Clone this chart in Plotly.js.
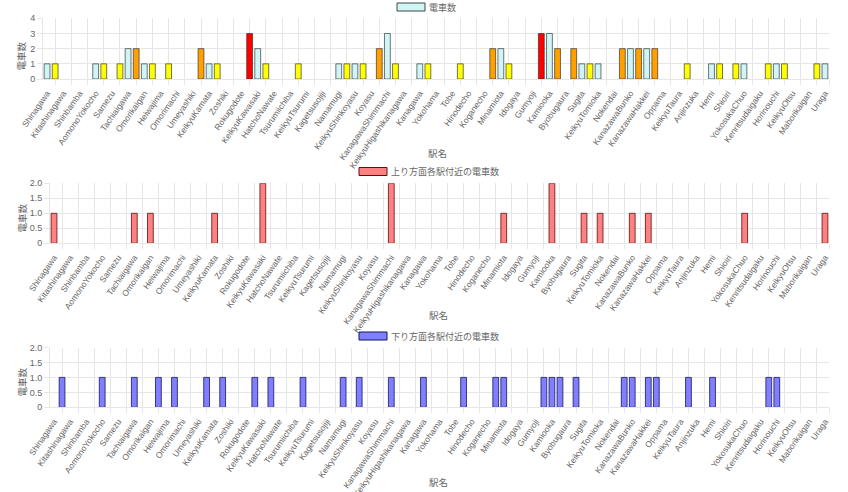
<!DOCTYPE html>
<html>
<head>
<meta charset="utf-8">
<script src="https://cdn.plot.ly/plotly-3.0.1.min.js"></script>
<style>
  html, body { margin: 0; padding: 0; background: #fff; }
  #chart { width: 848px; height: 492px; }
</style>
</head>
<body>
<div id="chart"></div>
<script>
const W = 848;
const H = 492;
// pixel -> paper helpers
const px = (x) => x / W;
const py = (y) => 1 - y / H;

const stations = [
  "Shinagawa", "Kitashinagawa", "Shinbamba", "AomonoYokocho", "Samezu",
  "Tachiaigawa", "Omorikaigan", "Heiwajima", "Omorimachi", "Umeyashiki",
  "KeikyuKamata", "Zoshiki", "Rokugodote", "KeikyuKawasaki", "HatchoNawate",
  "Tsurumiichiba", "KeikyuTsurumi", "Kagetsusojiji", "Namamugi", "KeikyuShinkoyasu",
  "Koyasu", "KanagawaShimmachi", "KeikyuHigashikanagawa", "Kanagawa", "Yokohama",
  "Tobe", "Hinodecho", "Koganecho", "Minamiota", "Idogaya",
  "Gumyoji", "Kamiooka", "Byobugaura", "Sugita", "KeikyuTomioka",
  "Nokendai", "KanazawaBunko", "KanazawaHakkei", "Oppama", "KeikyuTaura",
  "Anjinzuka", "Hemi", "Shioiri", "YokosukaChuo", "Kenritsudaigaku",
  "Horinouchi", "KeikyuOtsu", "Maborikaigan", "Uraga",
];

// one slot per station (even) and one per section between stations (odd)
const totalCounts = [
  1, 1, 0, 0, 0, 0, 1, 1, 0, 1,
  2, 2, 1, 1, 0, 1, 0, 0, 0, 2,
  1, 1, 0, 0, 0, 3, 2, 1, 0, 0,
  0, 1, 0, 0, 0, 0, 1, 1, 1, 1,
  0, 2, 3, 1, 0, 0, 1, 1, 0, 0,
  0, 1, 0, 0, 0, 2, 2, 1, 0, 0,
  0, 3, 3, 2, 0, 2, 1, 1, 1, 0,
  0, 2, 2, 2, 2, 2, 0, 0, 0, 1,
  0, 0, 1, 1, 0, 1, 1, 0, 0, 1,
  1, 1, 0, 0, 0, 1, 1,
];
const upCounts = [
  1, 0, 0, 0, 0, 0, 0, 0, 0, 0,
  1, 0, 1, 0, 0, 0, 0, 0, 0, 0,
  1, 0, 0, 0, 0, 0, 2, 0, 0, 0,
  0, 0, 0, 0, 0, 0, 0, 0, 0, 0,
  0, 0, 2, 0, 0, 0, 0, 0, 0, 0,
  0, 0, 0, 0, 0, 0, 1, 0, 0, 0,
  0, 0, 2, 0, 0, 0, 1, 0, 1, 0,
  0, 0, 1, 0, 1, 0, 0, 0, 0, 0,
  0, 0, 0, 0, 0, 0, 1, 0, 0, 0,
  0, 0, 0, 0, 0, 0, 1,
];
const downCounts = [
  0, 1, 0, 0, 0, 0, 1, 0, 0, 0,
  1, 0, 0, 1, 0, 1, 0, 0, 0, 1,
  0, 1, 0, 0, 0, 1, 0, 1, 0, 0,
  0, 1, 0, 0, 0, 0, 1, 0, 1, 0,
  0, 0, 1, 0, 0, 0, 1, 0, 0, 0,
  0, 1, 0, 0, 0, 1, 1, 0, 0, 0,
  0, 1, 1, 1, 0, 1, 0, 0, 0, 0,
  0, 1, 1, 0, 1, 1, 0, 0, 0, 1,
  0, 0, 1, 0, 0, 0, 0, 0, 0, 1,
  1, 0, 0, 0, 0, 0, 0,
];

const totalName = "電車数";
const upName = "上り方面各駅付近の電車数";
const downName = "下り方面各駅付近の電車数";
const axisNameX = "駅名";
const axisNameY = "電車数";

const stationColor = "#cff5f7";
const countColors = { 1: "#ffff00", 2: "#ffa000", 3: "#ff0000" };
const upColor = "#ff8080";
const downColor = "#8080ff";

const FONT = "Liberation Sans, Arial, Noto Sans CJK JP, sans-serif";
const TXT = "#666";
const GRID = "#e6e6e6";

const slots = totalCounts.map((_, i) => i);
const stationTicks = stations.map((_, i) => i * 2);
const gridTicks = stations.slice(1).map((_, i) => i * 2 + 1).concat([slots.length - 0.5]);

const topColors = totalCounts.map((v, i) =>
  i % 2 === 0 ? stationColor : countColors[v] || stationColor
);
const noZero = (arr) => arr.map((v) => (v === 0 ? null : v));

const traces = [
  {
    type: "bar", name: totalName, x: slots, y: noZero(totalCounts),
    xaxis: "x", yaxis: "y",
    marker: { color: topColors, line: { color: "rgba(40,40,40,0.8)", width: 0.8 } },
  },
  {
    type: "bar", name: upName, x: slots, y: noZero(upCounts),
    xaxis: "x2", yaxis: "y2",
    marker: { color: upColor, line: { color: "#5a1010", width: 0.8 } },
  },
  {
    type: "bar", name: downName, x: slots, y: noZero(downCounts),
    xaxis: "x3", yaxis: "y3",
    marker: { color: downColor, line: { color: "#151560", width: 0.8 } },
  },
];

const xAxis = (left, anchor) => ({
  domain: [px(left), px(829)],
  anchor: anchor,
  range: [-0.5, slots.length - 0.5],
  tickmode: "array",
  tickvals: stationTicks,
  ticktext: stations,
  tickangle: -55,
  tickfont: { family: FONT, size: 8.5, color: TXT },
  ticks: "outside",
  ticklen: 5,
  tickcolor: "rgba(0,0,0,0)",
  showgrid: false,
  minor: {
    tickmode: "array",
    tickvals: gridTicks,
    showgrid: true,
    gridcolor: GRID,
    gridwidth: 1,
    ticks: "outside",
    ticklen: 5,
    tickcolor: GRID,
  },
  showline: true,
  linecolor: GRID,
  zeroline: false,
  fixedrange: true,
});

const yAxis = (top, bottom, anchor, max, vals, texts) => ({
  domain: [py(bottom), py(top)],
  anchor: anchor,
  range: [0, max],
  tickmode: "array",
  tickvals: vals,
  ticktext: texts,
  tickfont: { family: FONT, size: 9, color: TXT },
  ticks: "outside",
  ticklen: 5,
  tickcolor: GRID,
  gridcolor: GRID,
  showline: true,
  linecolor: GRID,
  zeroline: false,
  fixedrange: true,
});

// chart.js style legend boxes, drawn as shape + text
const shapes = [];
const annotations = [];
const legendItem = (x0, yMid, label, fill, border) => {
  shapes.push({
    type: "rect", xref: "paper", yref: "paper",
    x0: px(x0), x1: px(x0 + 28), y0: py(yMid + 4), y1: py(yMid - 4),
    fillcolor: fill, line: { color: border, width: 1 },
  });
  annotations.push({
    xref: "paper", yref: "paper", x: px(x0 + 30), y: py(yMid),
    xanchor: "left", yanchor: "middle", showarrow: false,
    text: label, font: { family: FONT, size: 9, color: TXT },
  });
};
const axisLabel = (x, y, text, angle) => {
  annotations.push({
    xref: "paper", yref: "paper", x: px(x), y: py(y),
    xanchor: "center", yanchor: "middle", showarrow: false,
    text: text, textangle: angle,
    font: { family: FONT, size: 9.5, color: TXT },
  });
};

legendItem(397, 7, totalName, stationColor, "#444");
legendItem(359, 171.5, upName, upColor, "#5a1010");
legendItem(359, 336, downName, downColor, "#151560");

axisLabel(21.5, 56, axisNameY, -90);
axisLabel(21.5, 218, axisNameY, -90);
axisLabel(21.5, 382, axisNameY, -90);
axisLabel(437, 153.5, axisNameX, 0);
axisLabel(438, 315.5, axisNameX, 0);
axisLabel(438, 482, axisNameX, 0);

const layout = {
  width: W,
  height: H,
  margin: { l: 0, r: 0, t: 0, b: 0 },
  paper_bgcolor: "#fff",
  plot_bgcolor: "#fff",
  showlegend: false,
  bargap: 0.28,
  font: { family: FONT, color: TXT },
  xaxis: xAxis(43, "y"),
  xaxis2: xAxis(50, "y2"),
  xaxis3: xAxis(50, "y3"),
  yaxis: yAxis(18.3, 79, "x", 4, [0, 1, 2, 3, 4], ["0", "1", "2", "3", "4"]),
  yaxis2: yAxis(183.3, 243.3, "x2", 2, [0, 0.5, 1, 1.5, 2], ["0", "0.5", "1.0", "1.5", "2.0"]),
  yaxis3: yAxis(347.5, 407.3, "x3", 2, [0, 0.5, 1, 1.5, 2], ["0", "0.5", "1.0", "1.5", "2.0"]),
  shapes: shapes,
  annotations: annotations,
};

Plotly.newPlot("chart", traces, layout, { displayModeBar: false, staticPlot: true });
</script>
</body>
</html>
